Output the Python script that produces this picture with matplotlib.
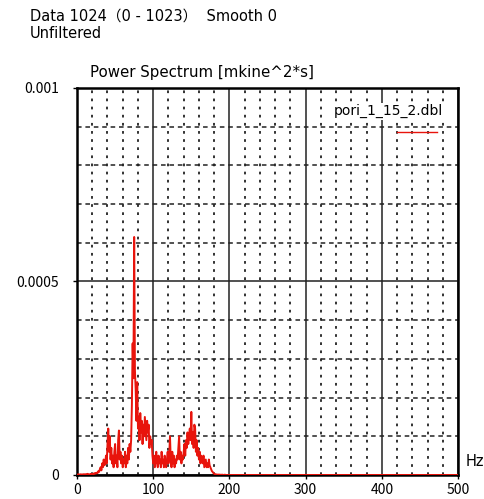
import numpy as np
import matplotlib
matplotlib.use("Agg")
import matplotlib.pyplot as plt
from matplotlib.ticker import MultipleLocator

plt.rcParams['font.family'] = ['Noto Sans CJK JP', 'DejaVu Sans']
wide = ['DejaVu Sans', 'Noto Sans CJK JP']

# spectrum values, 1 Hz bins from 0 to 199 Hz, in units of 1e-5 mkine^2*s
power_e5 = [
    0.1, 0.1, 0.2, 0.1, 0.1, 0.2, 0.1, 0.1, 0.2, 0.1,
    0.2, 0.1, 0.2, 0.1, 0.3, 0.2, 0.1, 0.2, 0.3, 0.2,
    0.3, 0.2, 0.4, 0.3, 0.5, 0.4, 0.6, 0.5, 1.0, 0.8,
    1.5, 2.0, 1.2, 3.0, 2.0, 4.0, 2.5, 3.0, 5.0, 3.0,
    8.0, 12.0, 6.0, 10.0, 4.0, 7.0, 3.0, 5.0, 2.0, 6.0,
    8.0, 3.0, 5.0, 2.0, 9.0, 11.5, 4.0, 6.0, 3.0, 5.0,
    2.0, 4.0, 3.0, 6.0, 2.0, 5.0, 3.0, 7.0, 4.0, 8.0,
    6.0, 9.0, 18.0, 34.0, 25.0, 61.5, 27.0, 22.0, 14.0, 24.0,
    12.0, 15.0, 9.0, 16.0, 11.0, 14.0, 8.0, 13.0, 10.0, 15.0,
    12.0, 9.0, 14.0, 11.0, 13.0, 7.0, 10.0, 8.0, 9.0, 5.0,
    3.0, 5.0, 2.0, 4.0, 6.0, 3.0, 2.0, 5.0, 3.0, 4.0,
    2.0, 6.0, 3.0, 4.0, 2.0, 5.0, 3.0, 2.0, 4.0, 6.0,
    3.0, 5.0, 10.0, 4.0, 2.0, 6.0, 3.0, 5.0, 2.0, 4.0,
    3.0, 5.0, 4.0, 7.0, 10.0, 4.0, 6.0, 3.0, 5.0, 4.0,
    6.0, 8.0, 5.0, 9.0, 7.0, 11.0, 8.0, 10.0, 12.0, 9.0,
    16.3, 8.0, 11.0, 7.0, 13.0, 12.0, 6.0, 9.0, 5.0, 7.0,
    4.0, 6.0, 3.0, 5.0, 4.0, 3.0, 5.0, 2.0, 3.0, 4.0,
    2.0, 3.0, 2.0, 4.0, 2.5, 2.0, 1.5, 1.0, 0.8, 0.5,
    0.3, 0.2, 0.2, 0.1, 0.1, 0.1, 0.1, 0.1, 0.0, 0.1,
    0.0, 0.1, 0.0, 0.0, 0.1, 0.0, 0.0, 0.0, 0.0, 0.0,
]
freq = np.arange(0, 501)
power = np.zeros(len(freq))
power[:len(power_e5)] = np.array(power_e5) * 1e-5

fig = plt.figure(figsize=(4.85, 4.99), dpi=100)
ax = fig.add_axes([0.1588, 0.0481, 0.7856, 0.7756])

ax.plot(freq, power, color='#e8140c', lw=1.4, zorder=3)

ax.set_xlim(0, 500)
ax.set_ylim(0, 0.001)
ax.xaxis.set_major_locator(MultipleLocator(100))
ax.xaxis.set_minor_locator(MultipleLocator(20))
ax.yaxis.set_minor_locator(MultipleLocator(0.0001))
ax.set_yticks([0, 0.0005, 0.001])
ax.set_yticklabels(['0', '0.0005', '0.001'])

ax.grid(which='major', axis='both', color='#222222', lw=1.1, ls='-')
ax.grid(which='minor', axis='x', color='#222222', lw=1.3, ls=(0, (1.5, 3)))
ax.grid(which='minor', axis='y', color='#222222', lw=1.1, ls=(0, (3, 2.5)))
ax.set_axisbelow(True)

for s in ax.spines.values():
    s.set_linewidth(1.8)
ax.tick_params(which='major', length=3, width=1, labelsize=10)
ax.tick_params(axis='x', pad=3)
ax.tick_params(axis='y', pad=10)
ax.tick_params(which='minor', length=0)

fig.text(30 / 485, 1 - 16 / 499, 'Data 1024（0 - 1023）  Smooth 0',
         fontsize=10.5, va='center', ha='left', family=wide)
fig.text(30 / 485, 1 - 34 / 499, 'Unfiltered', fontsize=10.5, va='center',
         ha='left', family=wide)
fig.text(90 / 485, 1 - 72 / 499, 'Power Spectrum [mkine^2*s]',
         fontsize=10.8, va='center', ha='left', family=wide)
fig.text(475 / 485, 1 - 461 / 499, 'Hz', fontsize=10.5, va='center', ha='center',
         family=wide)

# series name with a short line sample below it
ax.text(0.673, 0.94, 'pori_1_15_2.dbl', transform=ax.transAxes,
        fontsize=10, va='center', ha='left', zorder=4, family=wide,
        bbox=dict(facecolor='white', edgecolor='none', pad=1))
ax.plot([0.84, 0.945], [0.885, 0.885], transform=ax.transAxes,
        color='#e8140c', lw=1.0, zorder=4)

fig.savefig('out.png', dpi=100)
